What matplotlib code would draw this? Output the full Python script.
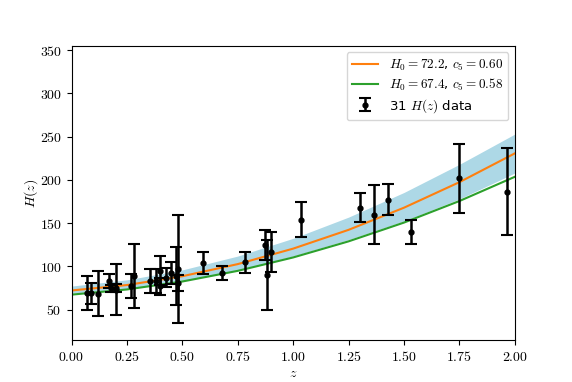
import matplotlib
matplotlib.use("Agg")
import matplotlib.pyplot as plt
from matplotlib.ticker import FuncFormatter

plt.rcParams['mathtext.fontset'] = 'cm'

# Observational H(z) data (31 points)
z_data = [0.07, 0.09, 0.12, 0.17, 0.179, 0.199, 0.2, 0.27, 0.28, 0.352, 0.3802,
          0.4, 0.4004, 0.4247, 0.4497, 0.47, 0.4783, 0.48, 0.593, 0.68, 0.781,
          0.875, 0.88, 0.9, 1.037, 1.3, 1.363, 1.43, 1.53, 1.75, 1.965]
H_data = [69, 69, 68.6, 83, 75, 75, 72.9, 77, 88.8, 83, 83,
          95, 77, 87.1, 92.8, 89, 80.9, 97, 104, 92, 105,
          125, 90, 117, 154, 168, 160, 177, 140, 202, 186.5]
H_err = [19.6, 12, 26.2, 8, 4, 5, 29.6, 14, 36.6, 14, 13.5,
         17, 10.2, 11.2, 12.9, 34, 9, 62, 13, 8, 12,
         17, 40, 23, 20, 17, 33.6, 18, 14, 40, 50.4]

# Model curves
z_curve = [0.0, 0.25, 0.5, 0.75, 1.0, 1.25, 1.5, 1.75, 2.0]
H_orange = [72.2, 78.5, 88.7, 102.7, 120.6, 142.3, 167.9, 197.4, 230.7]
H_green = [67.4, 73.4, 82.6, 94.9, 110.4, 129.0, 150.7, 175.6, 203.6]
band_upper = [77.3, 84.5, 96.0, 112.0, 132.5, 157.0, 185.5, 218.0, 253.0]
band_lower = [69.0, 74.5, 83.5, 95.5, 112.0, 131.0, 152.5, 178.0, 208.0]

label_orange = r'$H_0 = 72.2$, $c_5 = 0.60$'
label_green = r'$H_0 = 67.4$, $c_5 = 0.58$'
label_data = r'31 $H(z)$ data'

fig, ax = plt.subplots(figsize=(5.72, 3.82), dpi=100)

ax.fill_between(z_curve, band_lower, band_upper, color='lightblue', lw=0)
ax.plot(z_curve, H_orange, color='#ff7f0e', lw=1.5, label=label_orange)
ax.plot(z_curve, H_green, color='#2ca02c', lw=1.5, label=label_green)
ax.errorbar(z_data, H_data, yerr=H_err, fmt='o', color='black', ms=3.5,
            elinewidth=1.8, capsize=4, capthick=1.5, label=label_data, zorder=5)

ax.set_xlim(0, 2)
ax.set_ylim(15, 355)
ax.set_xticks([0, 0.25, 0.5, 0.75, 1.0, 1.25, 1.5, 1.75, 2.0])
ax.set_yticks([50, 100, 150, 200, 250, 300, 350])
ax.xaxis.set_major_formatter(FuncFormatter(lambda v, p: f'${v:.2f}$'))
ax.yaxis.set_major_formatter(FuncFormatter(lambda v, p: f'${v:.0f}$'))
ax.set_xlabel(r'$z$', labelpad=2)
ax.set_ylabel(r'$H(z)$', labelpad=0)
ax.legend(loc='upper right', fontsize=9.5, labelspacing=0.3,
          handlelength=2.0, borderpad=0.4)

fig.savefig('out.png', dpi=100)
